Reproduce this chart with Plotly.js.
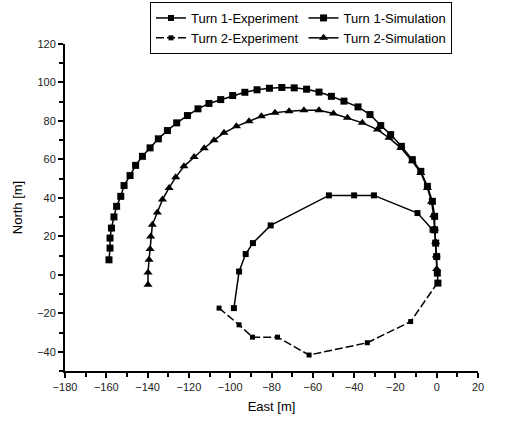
<!DOCTYPE html>
<html>
<head>
<meta charset="utf-8">
<script src="https://cdn.plot.ly/plotly-3.0.1.min.js"></script>
<style>html,body{margin:0;padding:0;background:#fff;}#chart{width:510px;height:425px;}</style>
</head>
<body>
<div id="chart"></div>
<script>
// Turn 1 - Simulation (squares)
const sim1East = [-158.7,-158.2,-158.2,-157.5,-156.3,-155.0,-153.0,-151.4,-148.5,-145.8,-142.5,-138.8,-134.8,-130.4,-125.9,-120.7,-115.6,-110.3,-104.6,-98.8,-92.9,-87.0,-81.0,-75.0,-69.0,-63.0,-57.0,-51.0,-44.9,-38.1,-32.3,-27.1,-22.3,-17.1,-11.8,-7.7,-4.5,-2.1,-1.0,-1.0,-0.5,0.0,0.3,0.6];
const sim1North = [7.8,13.9,19.1,24.3,30.1,35.6,40.8,46.4,51.6,56.9,61.6,66.0,70.7,75.0,79.0,82.8,86.3,89.1,91.1,93.2,94.9,96.2,97.0,97.4,97.2,96.5,95.0,92.8,90.3,87.3,83.3,77.6,72.9,66.8,59.9,53.8,46.0,38.2,30.4,23.4,16.5,9.5,0.9,-4.3];

// Turn 2 - Simulation (triangles)
const sim2East = [-139.8,-139.8,-139.3,-138.8,-138.5,-137.7,-135.3,-132.8,-129.6,-126.4,-122.4,-117.5,-112.6,-107.8,-103.0,-97.0,-90.9,-84.9,-78.3,-71.5,-64.3,-57.0,-50.0,-43.2,-36.0,-28.7,-23.1,-17.4,-11.8,-7.7,-4.5,-2.5,-1.5,-1.0,-0.5,-0.2,0.0];
const sim2North = [-5.2,1.2,7.8,13.4,19.9,26.0,32.4,39.1,45.2,50.7,56.4,61.3,65.8,70.0,73.8,77.2,79.8,82.4,84.2,85.1,85.6,85.6,83.9,81.6,79.0,75.5,71.2,66.0,59.0,53.0,45.2,38.0,31.0,24.0,17.0,10.0,3.0];

// Turn 1 - Experiment
const exp1East = [-2.0,-9.3,-30.4,-40.0,-52.2,-80.4,-89.0,-92.5,-95.7,-98.2];
const exp1North = [23.4,32.1,41.3,41.3,41.3,25.7,16.5,10.8,1.7,-17.3];

// Turn 2 - Experiment
const exp2East = [-105.4,-95.7,-89.2,-77.1,-61.8,-33.6,-12.6,0.3];
const exp2North = [-17.3,-26.0,-32.4,-32.4,-41.7,-35.3,-24.3,-4.3];

const xTickVals = [-180,-160,-140,-120,-100,-80,-60,-40,-20,0,20];
const yTickVals = [-40,-20,0,20,40,60,80,100,120];

const FONT = 'Liberation Sans, Arial, sans-serif';

const traces = [
  {x: exp1East, y: exp1North, name: 'Turn 1-Experiment', mode: 'lines+markers',
   line: {color: '#000', width: 1.5}, marker: {symbol: 'square', size: 6, color: '#000'}},
  {x: sim1East, y: sim1North, name: 'Turn 1-Simulation', mode: 'lines+markers',
   line: {color: '#000', width: 1.5}, marker: {symbol: 'square', size: 7, color: '#000'}},
  {x: exp2East, y: exp2North, name: 'Turn 2-Experiment', mode: 'lines+markers',
   line: {color: '#000', width: 1.5, dash: '8px,3px'}, marker: {symbol: 'square', size: 5, color: '#000'}},
  {x: sim2East, y: sim2North, name: 'Turn 2-Simulation', mode: 'lines+markers',
   line: {color: '#000', width: 1.5}, marker: {symbol: 'triangle-up', size: 8, color: '#000'}}
];

const px = v => (v - 65) / 413;
const py = v => (371 - v) / 327;

const layout = {
  width: 510, height: 425,
  margin: {l: 65, r: 32, t: 44, b: 54, autoexpand: false},
  font: {family: FONT, color: '#000', size: 11},
  showlegend: true,
  xaxis: {
    range: [-180, 20], tickvals: xTickVals, ticks: 'outside', ticklen: 5, tickwidth: 2, tickcolor: '#000',
    showline: true, linewidth: 2, linecolor: '#000', showgrid: false, zeroline: false, mirror: false,
    tickfont: {family: FONT, size: 11, color: '#222'},
    minor: {dtick: 10, tick0: 0, ticks: 'outside', ticklen: 4, tickwidth: 2, tickcolor: '#000', showgrid: false},
    title: {text: 'East [m]', font: {family: FONT, size: 13, color: '#000'}, standoff: 10}
  },
  yaxis: {
    range: [-50, 120], tickvals: yTickVals, ticks: 'outside', ticklen: 5, tickwidth: 2, tickcolor: '#000',
    showline: true, linewidth: 2, linecolor: '#000', showgrid: false, zeroline: false, mirror: false,
    tickfont: {family: FONT, size: 11, color: '#222'},
    minor: {dtick: 10, tick0: 0, ticks: 'outside', ticklen: 4, tickwidth: 2, tickcolor: '#000', showgrid: false},
    title: {text: 'North [m]', font: {family: FONT, size: 13, color: '#000'}, standoff: 12}
  },
  legend: {
    x: px(150), xanchor: 'left', y: py(2), yanchor: 'top', orientation: 'h',
    bgcolor: 'rgba(0,0,0,0)', bordercolor: '#000', borderwidth: 1,
    font: {family: FONT, size: 13, color: '#000'}, itemwidth: 30, traceorder: 'normal'
  }
};

Plotly.newPlot('chart', traces, layout, {displayModeBar: false});
</script>
</body>
</html>
